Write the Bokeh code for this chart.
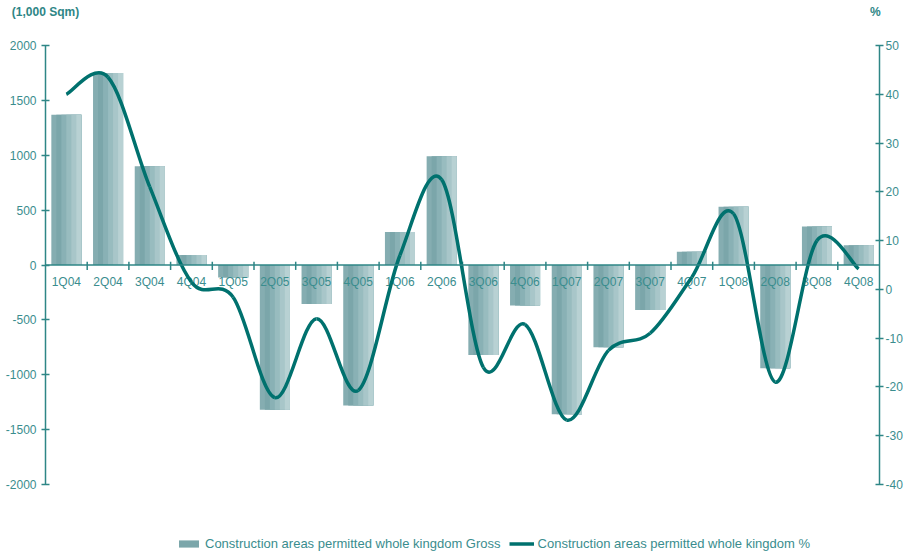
from bokeh.plotting import figure
from bokeh.models import (Range1d, LinearAxis, Span, Legend, LegendItem,
                          FixedTicker, ColumnDataSource)
from bokeh.core.properties import value
from bokeh.embed import file_html
from bokeh.resources import INLINE

# Quarterly construction areas permitted, whole kingdom
quarters = ["1Q04", "2Q04", "3Q04", "4Q04", "1Q05", "2Q05", "3Q05", "4Q05",
            "1Q06", "2Q06", "3Q06", "4Q06", "1Q07", "2Q07", "3Q07", "4Q07",
            "1Q08", "2Q08", "3Q08", "4Q08"]
gross = [1370, 1750, 900, 90, -115, -1320, -355, -1280, 300, 990,
         -820, -370, -1360, -750, -410, 120, 530, -940, 350, 180]
pct = [40.0, 43.5, 21.0, 1.5, -1.6, -22.2, -6.0, -20.7, 7.0, 22.5,
       -16.0, -7.2, -26.8, -12.5, -9.0, 2.5, 15.5, -19.0, 10.0, 4.2]
left_ticks = [-2000, -1500, -1000, -500, 0, 500, 1000, 1500, 2000]
right_ticks = [-40, -30, -20, -10, 0, 10, 20, 30, 40, 50]
unit_left = "(1,000 Sqm)"
unit_right = "%"

TEAL = "#2e8686"
TEXT = "#3a8d8e"
LINE = "#00716e"
FONT = "Liberation Sans"
STRIPES = ["#85adb1", "#7ba6aa", "#89b1b5", "#98bcbf", "#a8c6c9", "#b8d1d3"]

# page layout (pixels): frame spans TOP..H vertically, axes drawn over AX_TOP..AX_BOT
W, H = 905, 553
TOP, AX_TOP, AX_BOT = 32, 45, 484
L_MIN, L_MAX = left_ticks[0], left_ticks[-1]
R_MIN, R_MAX = right_ticks[0], right_ticks[-1]
kl = (AX_BOT - AX_TOP) / (L_MAX - L_MIN)
kr = (AX_BOT - AX_TOP) / (R_MAX - R_MIN)

n = len(quarters)
idx = list(range(n))

p = figure(width=W, height=H, output_backend="svg", toolbar_location=None,
           x_range=Range1d(-0.5, n - 0.5),
           y_range=Range1d(L_MIN - (H - AX_BOT) / kl, L_MAX + (AX_TOP - TOP) / kl),
           x_axis_location=None, y_axis_location="left")
p.min_border_left = 45
p.min_border_right = 24
p.min_border_top = TOP
p.min_border_bottom = 0
p.outline_line_color = None
p.xgrid.visible = False
p.ygrid.visible = False
p.background_fill_color = "white"

p.extra_y_ranges = {"pct": Range1d(R_MIN - (H - AX_BOT) / kr, R_MAX + (AX_TOP - TOP) / kr)}

def style_axis(ax, ticks):
    ax.ticker = FixedTicker(ticks=ticks)
    ax.major_label_overrides = {t: str(t) for t in ticks}
    ax.axis_line_color = TEAL
    ax.axis_line_width = 1.5
    ax.major_tick_line_color = TEAL
    ax.major_tick_line_width = 1.5
    ax.major_tick_in = 4
    ax.major_tick_out = 4
    ax.minor_tick_line_color = None
    ax.major_label_text_font = FONT
    ax.major_label_text_font_size = "12px"
    ax.major_label_text_color = TEXT
    ax.major_label_standoff = 5

left_axis = p.yaxis[0]
style_axis(left_axis, left_ticks)
left_axis.bounds = (L_MIN, L_MAX)

right_axis = LinearAxis(y_range_name="pct", bounds=(R_MIN, R_MAX))
style_axis(right_axis, right_ticks)
right_axis.major_label_standoff = 2
p.add_layout(right_axis, "right")

# unit captions over the two value scales
hdr = LinearAxis(ticker=FixedTicker(ticks=[-0.499, n - 0.6]),
                 major_label_overrides={-0.499: unit_left, n - 0.6: unit_right},
                 axis_line_color=None, major_tick_line_color=None,
                 minor_tick_line_color=None, major_label_standoff=8,
                 major_label_text_font=FONT, major_label_text_font_size="12px",
                 major_label_text_font_style="bold", major_label_text_color=TEAL)
p.add_layout(hdr, "above")

# layered quads give each column its shaded, banded look
bar_w = 0.72
stripe_w = bar_w / len(STRIPES)
bar_renderers = []
for k, col in enumerate(STRIPES):
    src = ColumnDataSource(dict(left=[i - bar_w / 2 + k * stripe_w for i in idx],
                                right=[i + bar_w / 2 for i in idx], top=gross))
    r = p.quad(left="left", right="right", top="top", bottom=0, source=src,
               fill_color=col, line_color=None)
    bar_renderers.append(r)

# zero line with category separators and quarter labels
p.add_layout(Span(location=0, dimension="width", line_color=TEAL, line_width=1.5))
bounds = [i + 0.5 for i in idx[:-1]]
p.segment(x0=bounds, y0=[30] * len(bounds), x1=bounds, y1=[-45] * len(bounds),
          line_color=TEAL, line_width=1.5)
p.text(x=idx, y=[0] * n, text=quarters, text_align="center", text_baseline="top",
       y_offset=10, text_font=value(FONT), text_font_size="12px", text_color=TEXT)

# smoothed percentage curve: cubic Bezier segments through each quarter's value
t = 1.0 / 6.0
x0, y0, x1, y1, cx0, cy0, cx1, cy1 = [], [], [], [], [], [], [], []
for i in range(n - 1):
    xm, pm = (i - 1, pct[i - 1]) if i > 0 else (i, pct[i])
    xp, pp = (i + 2, pct[i + 2]) if i + 2 < n else (i + 1, pct[i + 1])
    x0.append(i); y0.append(pct[i])
    x1.append(i + 1); y1.append(pct[i + 1])
    cx0.append(i + (i + 1 - xm) * t); cy0.append(pct[i] + (pct[i + 1] - pm) * t)
    cx1.append(i + 1 - (xp - i) * t); cy1.append(pct[i + 1] - (pp - pct[i]) * t)
line_r = p.bezier(x0=x0, y0=y0, x1=x1, y1=y1, cx0=cx0, cy0=cy0, cx1=cx1, cy1=cy1,
                  line_color=LINE, line_width=3.5, y_range_name="pct")

legend = Legend(items=[
    LegendItem(label="Construction areas permitted whole kingdom Gross", renderers=[bar_renderers[1]]),
    LegendItem(label="Construction areas permitted whole kingdom %", renderers=[line_r]),
], orientation="horizontal", location=(131, 2), border_line_color=None,
    background_fill_alpha=0, padding=0, margin=0, spacing=8, glyph_width=25,
    glyph_height=9, label_standoff=4, label_text_font=FONT,
    label_text_font_size="13px", label_text_color=TEXT)
p.add_layout(legend)

open("out.html", "w").write(file_html(p, INLINE))
